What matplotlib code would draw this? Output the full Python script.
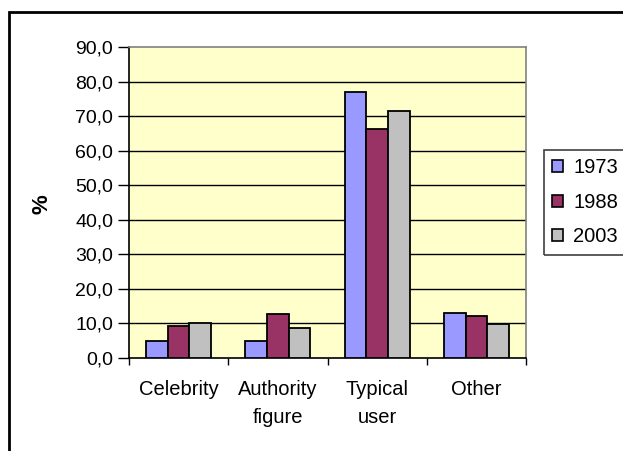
import matplotlib
matplotlib.use("Agg")
import matplotlib.pyplot as plt
from matplotlib.patches import Rectangle
import numpy as np

plt.rcParams['font.family'] = ['Liberation Sans', 'DejaVu Sans']

categories = ["Celebrity", "Authority\nfigure", "Typical\nuser", "Other"]
years = ["1973", "1988", "2003"]
values_1973 = [4.8, 4.8, 76.9, 13.1]
values_1988 = [9.2, 12.6, 66.2, 12.1]
values_2003 = [10.2, 8.7, 71.6, 9.7]
yticks = [0, 10, 20, 30, 40, 50, 60, 70, 80, 90]

colors = ["#9999FF", "#993366", "#C0C0C0"]
series = [values_1973, values_1988, values_2003]

fig = plt.figure(figsize=(6.23, 4.51), dpi=100)
ax = fig.add_axes([0.2071, 0.2062, 0.6372, 0.6896])
ax.set_facecolor("#FFFFCC")

x = np.arange(len(categories)) + 0.5
w = 0.218
for i, (vals, col, yr) in enumerate(zip(series, colors, years)):
    ax.bar(x + (i - 1) * w, vals, width=w, color=col, edgecolor="black",
           linewidth=1.3, label=yr, zorder=3)

ax.set_xlim(0, 4)
ax.set_ylim(0, 90)
ax.set_yticks(yticks)
ax.set_yticklabels([f"{t:.1f}".replace(".", ",") for t in yticks], fontsize=14)
for t in yticks[1:-1]:
    ax.axhline(t, color="black", linewidth=1, zorder=1)

ax.set_xticks([0, 1, 2, 3, 4])
ax.set_xticklabels([])
ax.tick_params(axis="x", direction="out", length=5, width=1, color="black")
ax.tick_params(axis="y", direction="out", length=8, width=1, color="black", pad=3.5)
for i, c in enumerate(categories):
    ax.text(x[i], -6.3, c, ha="center", va="top", fontsize=14.5, linespacing=1.6)

ax.spines["left"].set_color("black")
ax.spines["bottom"].set_color("black")
ax.spines["top"].set_color("#808080")
ax.spines["right"].set_color("#808080")
for s in ax.spines.values():
    s.set_linewidth(1.2)

fig.text(42 / 623, 1 - 204 / 451, "%", rotation=90, fontsize=16,
         fontweight="bold", ha="center", va="center")

leg = fig.legend(loc="upper left", bbox_to_anchor=(552 / 623, 1 - 158 / 451),
                 fontsize=14.5, frameon=False,
                 handlelength=0.55, handleheight=0.55, handletextpad=0.5,
                 labelspacing=0.78, borderpad=0, borderaxespad=0)
for h in leg.legend_handles:
    h.set_linewidth(1.2)

# legend box, running off the right edge
fig.patches.append(Rectangle((544 / 623, 1 - 255 / 451), 0.3, 105 / 451,
                             transform=fig.transFigure, fill=False,
                             edgecolor="#404040", linewidth=1.2))

# outer chart frame, running off the right and bottom edges
fig.patches.append(Rectangle((9 / 623, -0.1), 1.2, 1 - 12 / 451 + 0.1,
                             transform=fig.transFigure, fill=False,
                             edgecolor="black", linewidth=2))

fig.savefig("out.png", dpi=100)
